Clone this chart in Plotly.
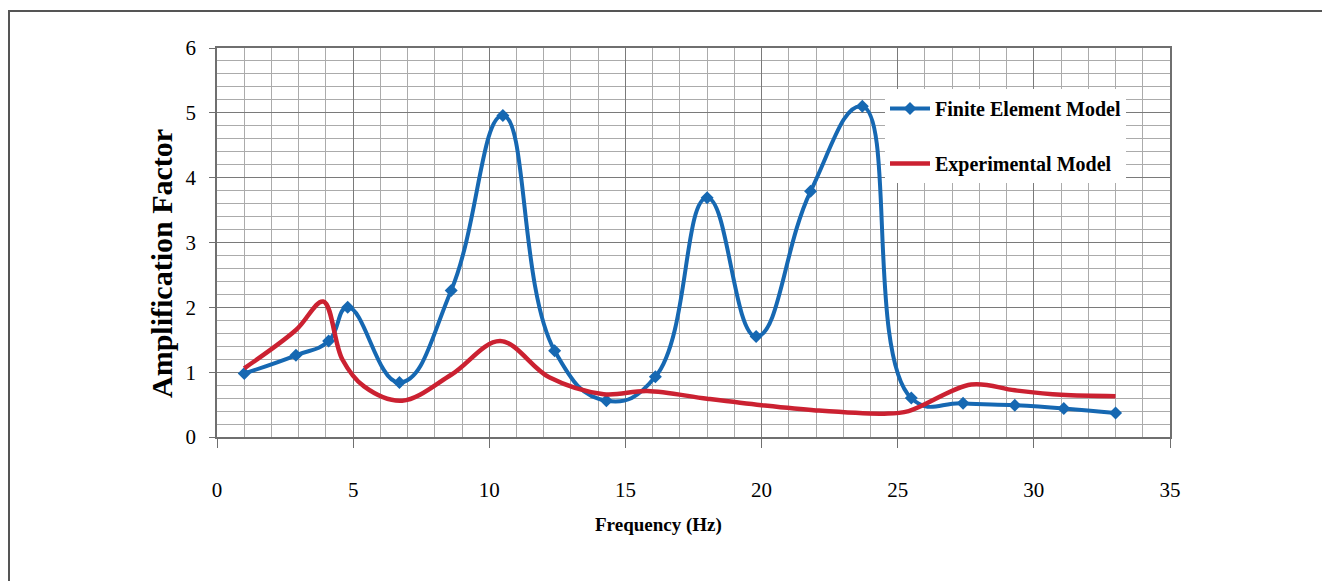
import plotly.graph_objects as go

# Finite Element Model (markers visible)
fe_freq = [1.0, 2.9, 4.1, 4.8, 6.7, 8.6, 10.5, 12.4, 14.3, 16.1, 18.0, 19.8, 21.8, 23.7, 25.5, 27.4, 29.3, 31.1, 33.0]
fe_amp = [0.98, 1.26, 1.48, 2.0, 0.84, 2.26, 4.96, 1.33, 0.56, 0.93, 3.69, 1.55, 3.79, 5.1, 0.6, 0.52, 0.49, 0.44, 0.37]

# Experimental Model (smooth line, no markers)
ex_freq = [1.0, 2.9, 3.9, 4.6, 5.4, 6.8, 8.6, 10.4, 12.2, 14.2, 15.8, 18.0, 20.0, 22.0, 24.5, 25.4, 27.7, 29.3, 31.0, 33.0]
ex_amp = [1.06, 1.65, 2.09, 1.2, 0.78, 0.56, 0.96, 1.48, 0.92, 0.66, 0.71, 0.59, 0.49, 0.41, 0.36, 0.40, 0.81, 0.72, 0.65, 0.63]

x_ticks = [0, 5, 10, 15, 20, 25, 30, 35]
y_ticks = [0, 1, 2, 3, 4, 5, 6]

BLUE = "#1668B2"
RED = "#CB2131"
SERIF = "Liberation Serif, Times New Roman, serif"

fig = go.Figure()
fig.add_trace(go.Scatter(
    x=fe_freq, y=fe_amp, name="Finite Element Model", mode="lines+markers",
    line=dict(color=BLUE, width=4, shape="spline", smoothing=1.3),
    marker=dict(symbol="diamond", size=10, color=BLUE),
    legendgroup="a",
))
fig.add_trace(go.Scatter(
    x=ex_freq, y=ex_amp, name="Experimental Model", mode="lines",
    line=dict(color=RED, width=4.5, shape="spline", smoothing=1.0),
    legendgroup="b",
))

# page offset (default body margin)
OFF = 8
W, H = 1330 - OFF, 581 - OFF
# plot area in screen pixels
SL, SR, ST, SB = 217, 1170, 48, 437
L, T = SL - OFF, ST - OFF
R = W - (SR - OFF)
B = H - (SB - OFF)
pw, ph = SR - SL, SB - ST

def px(xs):
    return (xs - SL) / pw

def py(ys):
    return (SB - ys) / ph

fig.update_layout(
    width=W, height=H,
    margin=dict(l=L, r=R, t=T, b=B),
    paper_bgcolor="white", plot_bgcolor="white",
    showlegend=True,
    legend=dict(
        x=px(885), y=py(89), xanchor="left", yanchor="top",
        bgcolor="white", borderwidth=0,
        font=dict(family=SERIF, size=20, color="black", weight="bold"),
        tracegroupgap=26, traceorder="grouped",
        itemwidth=40,
    ),
    xaxis=dict(
        range=[0, 35], tickvals=x_ticks, ticktext=[str(v) for v in x_ticks],
        showgrid=True, gridcolor="#7a7a7a", gridwidth=1.2,
        minor=dict(dtick=1, showgrid=True, gridcolor="#ababab", gridwidth=1),
        showline=True, linecolor="#6f6f6f", linewidth=1.5, mirror=True,
        ticks="outside", ticklen=9, tickcolor="#6f6f6f",
        ticklabelstandoff=24,
        tickfont=dict(family=SERIF, size=21, color="black"),
        zeroline=False,
    ),
    yaxis=dict(
        range=[0, 6], tickvals=y_ticks, ticktext=[str(v) for v in y_ticks],
        showgrid=True, gridcolor="#7a7a7a", gridwidth=1.2,
        minor=dict(dtick=0.2, showgrid=True, gridcolor="#ababab", gridwidth=1),
        showline=True, linecolor="#6f6f6f", linewidth=1.5, mirror=True,
        ticks="outside", ticklen=6, tickcolor="#6f6f6f",
        ticklabelstandoff=9,
        tickfont=dict(family=SERIF, size=21, color="black"),
        zeroline=False,
    ),
    annotations=[
        dict(text="<b>Frequency (Hz)</b>", x=px(658), y=py(525), xref="paper", yref="paper",
             showarrow=False, xanchor="center", yanchor="middle",
             font=dict(family=SERIF, size=19, color="black")),
        dict(text="<b>Amplification Factor</b>", x=px(162), y=py(264), xref="paper", yref="paper",
             showarrow=False, xanchor="center", yanchor="middle", textangle=-90,
             font=dict(family=SERIF, size=30, color="black")),
    ],
    shapes=[
        dict(type="rect", xref="paper", yref="paper",
             x0=px(OFF + 1), x1=px(1326), y0=py(620), y1=py(11),
             line=dict(color="#555555", width=2), fillcolor="rgba(0,0,0,0)", layer="below"),
    ],
)

fig.write_html("out.html")
